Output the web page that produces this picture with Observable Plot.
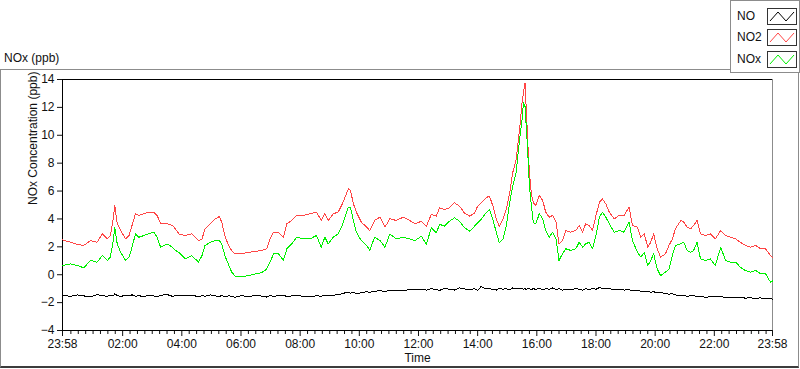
<!DOCTYPE html>
<html>
<head>
<meta charset="utf-8">
<script src="https://cdn.jsdelivr.net/npm/d3@7"></script>
<script src="https://cdn.jsdelivr.net/npm/@observablehq/plot@0.6"></script>
<style>
  html, body { margin: 0; padding: 0; background: #fff; width: 800px; height: 369px; overflow: hidden;
    font-family: "Liberation Sans", Arial, sans-serif; color: #111; }
  #frame { position: absolute; left: 0; top: 69px; width: 797px; height: 296px;
    border: 1px solid #8c8c8c; border-bottom: 2px solid #3c3c3c; box-sizing: content-box; }
  #title { position: absolute; left: 4px; top: 51px; font-size: 12px; line-height: 14px; white-space: nowrap; }
  #chart { position: absolute; left: 0; top: 0; }
  #legend { position: absolute; left: 730px; top: 0; width: 68px; height: 71px; background: #fff;
    border: 1px solid #8c8c8c; }
  #legend .lab { position: absolute; left: 6px; font-size: 12px; line-height: 14px; }
  #legend svg { position: absolute; left: 36px; }
</style>
</head>
<body>
<div id="frame"></div>
<div id="title">NOx (ppb)</div>
<div id="chart"></div>
<div id="legend"></div>
<script>
// ---- data: minutes after the 23:58 start ----
const minutes = [0,16,30,43,57,70,81,91,97,103,106,111,118,128,135,141,148,155,165,175,185,192,199,212,223,229,236,
  249,262,276,283,289,300,310,318,323,330,337,343,350,364,377,391,404,414,421,428,438,448,455,465,475,
  488,502,515,525,532,539,549,559,566,573,580,584,590,596,606,617,623,633,644,654,664,677,691,704,715,
  728,738,748,758,765,775,785,795,805,815,826,836,842,849,859,866,873,880,886,893,900,907,913,920,927,932,935,938,941,944,947,951,955,
  960,967,974,980,987,994,1001,1007,1014,1021,1031,1041,1048,1055,1061,1068,1075,1082,1089,1095,1102,1109,1119,1129,1139,1149,1156,1166,1173,1180,1187,1193,
  1199,1206,1213,1223,1230,1237,1243,1254,1260,1267,1274,1280,1287,1294,1304,1314,1324,1335,1345,1355,1365,1375,1385,1395,1406,1416,1426,1436,1440];

const no2 = [2.5,2.33,2.17,2.1,2.45,2.33,2.93,2.57,2.81,4.0,4.96,3.65,3.17,2.57,2.81,3.53,4.37,4.25,4.37,4.49,4.49,4.25,3.65,3.65,3.53,3.29,2.93,
  2.81,2.93,2.45,2.57,3.29,3.65,4.0,4.18,3.77,2.69,2.1,1.74,1.5,1.5,1.61,1.67,1.74,1.86,2.57,3.05,3.05,2.69,3.65,3.89,4.25,
  4.25,4.37,4.49,3.89,4.37,3.89,4.37,4.49,4.96,5.56,6.16,6.04,5.09,4.49,3.77,3.41,3.17,3.89,4.13,3.41,4.01,3.89,4.13,3.89,3.65,
  3.84,3.48,4.32,4.2,4.8,4.68,4.8,5.16,4.92,4.44,4.2,4.44,4.92,5.16,5.52,5.64,4.92,3.97,3.48,3.97,4.68,5.87,7.3,8.26,10.41,12.32,13.04,13.76,11.61,9.22,7.3,5.76,5.16,
  4.96,5.68,5.32,4.49,4.13,4.25,3.77,2.21,2.45,3.17,3.05,3.17,3.53,3.05,3.65,3.53,3.17,4.25,5.2,5.44,5.08,4.49,4.01,4.25,4.25,4.85,3.53,3.41,2.69,2.93,1.97,2.33,
  2.93,1.86,1.26,1.5,2.1,2.57,3.29,3.89,3.77,3.41,3.29,3.53,3.89,2.93,2.81,2.93,2.57,3.17,2.81,2.69,2.57,2.33,2.1,1.97,2.1,1.86,1.86,1.38,1.25];

const nox = [0.66,0.78,0.66,0.5,1.02,0.9,1.38,1.02,1.26,2.45,3.41,2.21,1.61,1.02,1.26,1.97,2.93,2.69,2.81,2.93,3.05,2.69,1.97,2.21,1.97,1.74,1.61,
  1.14,1.38,0.9,1.38,2.1,2.33,2.45,2.45,2.2,1.3,0.7,0.2,-0.1,-0.15,-0.06,0.06,0.15,0.4,0.9,1.5,1.5,1.02,1.86,2.21,2.69,
  2.57,2.57,2.81,1.97,2.69,2.21,2.69,2.93,3.41,4.13,4.85,4.85,3.89,3.05,2.45,2.1,1.74,2.69,2.45,1.97,2.93,2.57,2.69,2.57,2.45,
  2.77,2.17,3.37,3.01,3.61,3.49,3.84,4.08,3.84,3.37,3.13,3.49,3.72,3.96,4.44,4.68,3.96,3.01,2.29,2.53,3.49,5.16,6.35,7.3,9.7,11.13,12.32,12.08,10.41,8.5,6.35,4.92,3.72,
  3.65,4.37,4.01,3.17,2.69,3.05,2.57,1.02,1.5,1.86,1.74,1.86,2.33,1.97,2.21,2.33,1.86,2.81,4.13,4.49,4.13,3.65,3.05,3.17,3.05,3.77,2.45,1.61,1.26,1.61,0.66,1.02,
  1.5,0.42,-0.06,0.18,0.42,1.38,2.1,2.21,2.33,1.74,1.61,1.74,2.33,1.14,1.02,1.14,0.66,1.97,1.02,0.9,0.9,0.54,0.3,0.18,0.3,0.06,0.06,-0.54,-0.45];

const no = [-1.48,-1.55,-1.45,-1.52,-1.58,-1.42,-1.5,-1.55,-1.46,-1.53,-1.35,-1.5,-1.56,-1.47,-1.52,-1.44,-1.55,-1.5,-1.58,-1.46,-1.51,-1.6,-1.48,-1.42,-1.55,-1.5,-1.47,
  -1.52,-1.46,-1.58,-1.5,-1.55,-1.44,-1.52,-1.57,-1.48,-1.6,-1.5,-1.55,-1.62,-1.5,-1.58,-1.47,-1.53,-1.6,-1.49,-1.55,-1.5,-1.46,-1.57,-1.52,-1.48,
  -1.55,-1.6,-1.5,-1.56,-1.45,-1.52,-1.48,-1.42,-1.38,-1.3,-1.25,-1.32,-1.28,-1.35,-1.3,-1.22,-1.26,-1.18,-1.15,-1.2,-1.12,-1.1,-1.15,-1.05,-1.08,
  -1.05,-1.1,-1.0,-1.06,-1.12,-0.98,-1.05,-1.1,-0.95,-1.02,-1.08,-1.0,-1.12,-0.85,-1.02,-1.0,-1.06,-1.1,-0.98,-1.04,-1.0,-1.08,-0.95,-1.02,-1.0,-0.96,-1.05,-1.0,-1.08,-0.98,-1.02,-1.06,-1.0,
  -1.05,-0.98,-1.08,-1.0,-1.04,-0.95,-1.06,-1.0,-1.1,-1.02,-1.08,-0.98,-1.05,-1.1,-1.0,-1.06,-0.98,-1.04,-0.92,-0.97,-1.02,-1.0,-1.08,-1.05,-1.1,-1.06,-1.15,-1.12,-1.18,-1.2,-1.22,-1.25,
  -1.22,-1.3,-1.27,-1.35,-1.4,-1.36,-1.45,-1.5,-1.46,-1.55,-1.5,-1.48,-1.58,-1.55,-1.62,-1.57,-1.6,-1.54,-1.65,-1.6,-1.67,-1.62,-1.68,-1.65,-1.7,-1.66,-1.72,-1.68,-1.75];

const seriesNames = ["NO", "NO2", "NOx"];
const seriesColors = ["#000000", "#ff4545", "#00f000"];
const yTicks = [-4, -2, 0, 2, 4, 6, 8, 10, 12, 14];
const xTickLabels = ["23:58", "02:00", "04:00", "06:00", "08:00", "10:00", "12:00", "14:00", "16:00", "18:00", "20:00", "22:00", "23:58"];
const yLabel = "NOx Concentration (ppb)";
const xLabel = "Time";

// ---- build ----
const START = Date.UTC(2000, 0, 1, 23, 58);
const toDate = m => new Date(START + m * 60000);
const startMin = 23 * 60 + 58;
const majorMinutes = xTickLabels.map((s, i) => {
  if (i === xTickLabels.length - 1) return 1440;
  const [h, m] = s.split(":").map(Number);
  return ((h * 60 + m) - startMin + 1440) % 1440;
});
const majorDates = majorMinutes.map(toDate);
const minorDates = [];
for (let m = 2; m < 1440; m += 15) {
  if ((m - 2) % 120 !== 0) minorDates.push(toDate(m));
}

const rows = [];
[no, no2, nox].forEach((vals, k) => {
  minutes.forEach((m, i) => {
    if (vals[i] !== undefined) rows.push({series: seriesNames[k], time: toDate(m), value: vals[i]});
  });
});

const chart = Plot.plot({
  width: 800,
  height: 369,
  marginLeft: 62,
  marginRight: 28,
  marginTop: 79,
  marginBottom: 39,
  style: {fontFamily: "'Liberation Sans', Arial, sans-serif", fontSize: "12px", color: "#111", background: "transparent", overflow: "visible"},
  x: {type: "utc", domain: [toDate(0), toDate(1440)]},
  y: {domain: [-4, 14]},
  color: {domain: seriesNames, range: seriesColors},
  marks: [
    Plot.axisY({ticks: yTicks, tickSize: 5, tickPadding: 3, label: null}),
    Plot.axisX({ticks: majorDates, tickSize: 6, tickPadding: 3, tickFormat: (d, i) => xTickLabels[i], label: null}),
    Plot.axisX({ticks: minorDates, tickSize: 4, tickFormat: () => "", label: null}),
    Plot.ruleY([14], {stroke: "#000"}),
    Plot.ruleY([-4], {stroke: "#000"}),
    Plot.ruleX([toDate(0)], {stroke: "#000"}),
    Plot.ruleX([toDate(1440)], {stroke: "#8c8c8c"}),
    Plot.line(rows, {x: "time", y: "value", z: "series", stroke: "series", strokeWidth: 1, shapeRendering: "crispEdges"}),
    Plot.text([yLabel], {text: d => d, frameAnchor: "left", dx: -29, rotate: -90, fontSize: 12}),
    Plot.text([xLabel], {text: d => d, frameAnchor: "bottom", dy: 31, fontSize: 12})
  ]
});
document.getElementById("chart").appendChild(chart);

// ---- legend ----
const legend = document.getElementById("legend");
const tops = [7, 28, 50];
seriesNames.forEach((name, i) => {
  const lab = document.createElement("div");
  lab.className = "lab";
  lab.style.top = (tops[i] + 1) + "px";
  lab.textContent = name;
  legend.appendChild(lab);
  const ns = "http://www.w3.org/2000/svg";
  const svg = document.createElementNS(ns, "svg");
  svg.setAttribute("width", 30); svg.setAttribute("height", 17);
  svg.style.top = tops[i] + "px";
  const r = document.createElementNS(ns, "rect");
  r.setAttribute("x", 0.5); r.setAttribute("y", 0.5); r.setAttribute("width", 29); r.setAttribute("height", 16);
  r.setAttribute("fill", "#fff"); r.setAttribute("stroke", "#333");
  svg.appendChild(r);
  const p = document.createElementNS(ns, "polyline");
  p.setAttribute("points", "3,13 11,4 19,13 27,4");
  p.setAttribute("fill", "none"); p.setAttribute("stroke", seriesColors[i]);
  svg.appendChild(p);
  legend.appendChild(svg);
});
</script>
</body>
</html>
